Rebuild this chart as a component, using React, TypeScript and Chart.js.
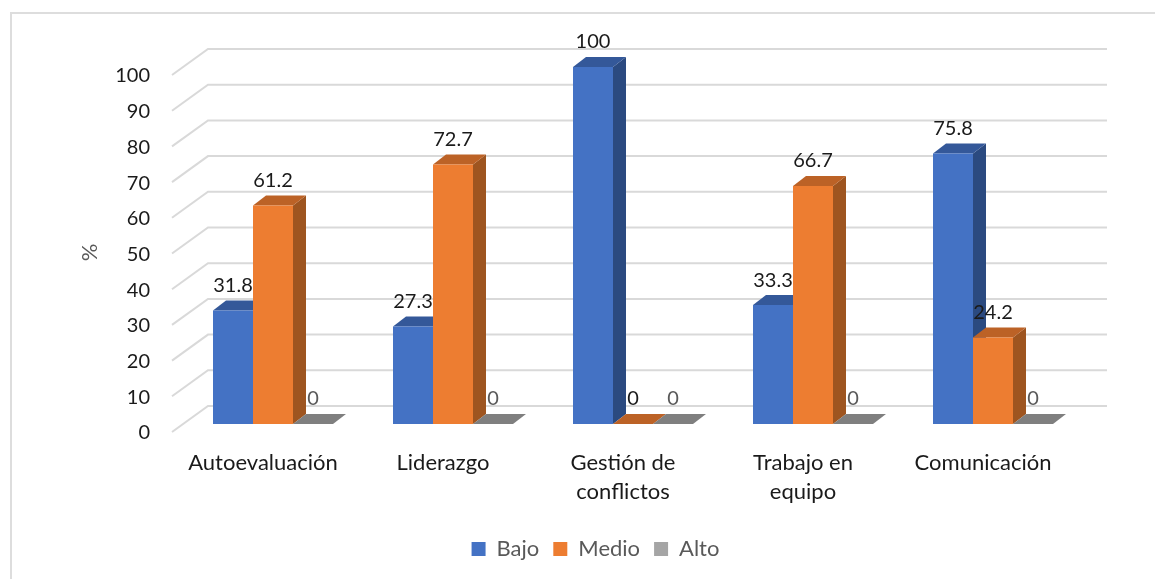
import React, { useEffect, useRef } from "react";
import { Chart, registerables } from "chart.js";

Chart.register(...registerables);

const categories = [
  "Autoevaluación",
  "Liderazgo",
  ["Gestión de", "conflictos"],
  ["Trabajo en", "equipo"],
  "Comunicación",
];
const bajo = [31.8, 27.3, 100, 33.3, 75.8];
const medio = [61.2, 72.7, 0, 66.7, 24.2];
const alto = [0, 0, 0, 0, 0];
const seriesNames = ["Bajo", "Medio", "Alto"];
const frontColors = ["#4472C4", "#ED7D31", "#A5A5A5"];
const topColors = ["#345899", "#BC6226", "#7F7F7F"];
const sideColors = ["#2B4A80", "#9E5520", "#6E6E6E"];

const FONT = "Lato, Carlito, sans-serif";

const threeD = {
  id: "threeD",
  afterLayout(chart: any) {
    const legend = chart.legend;
    legend.left += 16;
    legend.right += 16;
    const s = chart.scales.y;
    const orig = s.drawTitle.bind(s);
    s.drawTitle = () => {
      chart.ctx.save();
      chart.ctx.translate(1, 7);
      orig();
      chart.ctx.restore();
    };
  },
  beforeDraw(chart: any) {
    const { ctx } = chart;
    ctx.save();
    ctx.fillStyle = "#fff";
    ctx.fillRect(0, 0, chart.width, chart.height);
    ctx.strokeStyle = "#DDDDDD";
    ctx.lineWidth = 2;
    ctx.beginPath();
    ctx.moveTo(11, chart.height);
    ctx.lineTo(11, 13);
    ctx.lineTo(chart.width, 13);
    ctx.stroke();
    ctx.restore();
  },
  beforeDatasetsDraw(chart: any) {
    const { ctx, chartArea, scales } = chart;
    ctx.save();
    // Oblique gridlines
    ctx.strokeStyle = "#D9D9D9";
    ctx.lineWidth = 2;
    scales.y.ticks.forEach((t: any) => {
      const y = scales.y.getPixelForValue(t.value);
      ctx.beginPath();
      ctx.moveTo(chartArea.left - 11, y + 8);
      ctx.lineTo(chartArea.left + 25, y - 18);
      ctx.lineTo(chartArea.right + 24, y - 18);
      ctx.stroke();
    });
    // Tops and sides, left to right
    const dx = 13;
    const dy = 10;
    for (let c = 0; c < categories.length; c++) {
      chart.data.datasets.forEach((_: any, d: number) => {
        const el = chart.getDatasetMeta(d).data[c];
        const half = el.width / 2;
        const l = el.x - half;
        const r = el.x + half;
        const top = el.y;
        const base = el.base;
        ctx.fillStyle = sideColors[d];
        ctx.beginPath();
        ctx.moveTo(r, top);
        ctx.lineTo(r + dx, top - dy);
        ctx.lineTo(r + dx, base - dy);
        ctx.lineTo(r, base);
        ctx.closePath();
        ctx.fill();
        ctx.fillStyle = topColors[d];
        ctx.beginPath();
        ctx.moveTo(l, top);
        ctx.lineTo(l + dx, top - dy);
        ctx.lineTo(r + dx, top - dy);
        ctx.lineTo(r, top);
        ctx.closePath();
        ctx.fill();
      });
    }
    ctx.restore();
  },
  afterDatasetsDraw(chart: any) {
    const { ctx } = chart;
    ctx.save();
    ctx.font = `20px ${FONT}`;
    ctx.textAlign = "center";
    ctx.textBaseline = "middle";
    chart.data.datasets.forEach((ds: any, d: number) => {
      chart.getDatasetMeta(d).data.forEach((el: any, i: number) => {
        const v = ds.data[i];
        ctx.fillStyle = d === 2 ? "#595959" : "#1A1A1A";
        ctx.fillText(String(v), el.x, el.y - 25);
      });
    });
    ctx.restore();
  },
};

export default function App() {
  const ref = useRef<HTMLCanvasElement>(null);
  useEffect(() => {
    const chart = new Chart(ref.current!, {
      type: "bar",
      data: {
        labels: categories as any,
        datasets: [bajo, medio, alto].map((data, i) => ({
          label: seriesNames[i],
          data,
          backgroundColor: frontColors[i],
          borderWidth: 0,
          barPercentage: 1,
          categoryPercentage: 2 / 3,
        })),
      },
      options: {
        responsive: false,
        animation: false,
        maintainAspectRatio: false,
        layout: { padding: { left: 76, right: 72, top: 67, bottom: 9 } },
        plugins: {
          tooltip: { enabled: false },
          legend: {
            position: "bottom",
            labels: {
              font: { family: FONT, size: 22 },
              color: "#595959",
              boxWidth: 14,
              boxHeight: 14,
              padding: 14,
            },
          },
        },
        scales: {
          x: {
            grid: { display: false, drawTicks: false },
            border: { display: false },
            afterFit: (s: any) => {
              s.height = 100;
            },
            ticks: {
              color: "#1A1A1A",
              font: { family: FONT, size: 22, lineHeight: 1.32 },
              maxRotation: 0,
              autoSkip: false,
              labelOffset: -10,
              padding: 24,
            },
          },
          y: {
            min: 0,
            max: 100,
            grid: { display: false, drawTicks: false },
            border: { display: false },
            afterFit: (s: any) => {
              s.width = 107;
            },
            title: {
              display: true,
              text: "%",
              color: "#595959",
              font: { family: FONT, size: 22 },
              padding: 0,
            },
            ticks: {
              stepSize: 10,
              color: "#1A1A1A",
              font: { family: FONT, size: 20 },
              padding: 33,
              labelOffset: 9,
            },
          },
        },
      },
      plugins: [threeD],
    } as any);
    return () => chart.destroy();
  }, []);
  return (
    <canvas
      ref={ref}
      width={1155}
      height={579}
      style={{ position: "absolute", left: 0, top: 0, width: 1155, height: 579 }}
    />
  );
}
